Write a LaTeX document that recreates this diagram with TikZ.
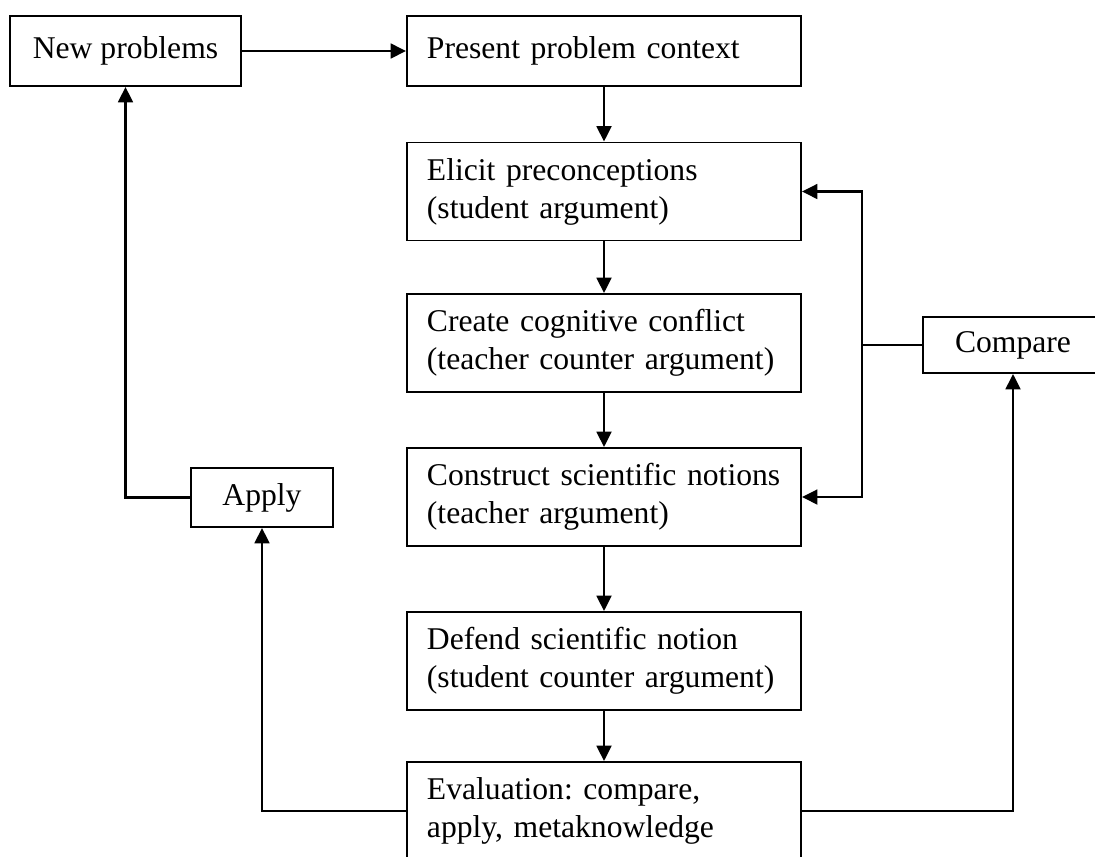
\documentclass[tikz,border=0pt]{standalone}
\usepackage{fontspec}
\setmainfont{Liberation Serif}
\usetikzlibrary{arrows.meta,positioning}

\tikzset{
  stagebox/.style={draw, line width=1.3pt, text width=8.85cm, inner xsep=0.5cm, inner ysep=0pt, align=left, minimum height=2.45cm},
  sidebox/.style={draw, line width=1.3pt, inner sep=0pt, align=center},
  flow/.style={line width=1.8pt, -{Triangle[length=11pt,width=10.5pt]}},
  link/.style={line width=1.8pt},
}

\begin{document}
\begin{tikzpicture}[x=0.025cm, y=-0.025cm, font=\fontsize{22.5pt}{27pt}\selectfont]
  \useasboundingbox (0,0) rectangle (1095,856);

  % Main column
  \node[stagebox, minimum height=1.75cm] (present) at (604,51) {Present problem context};
  \node[stagebox] (elicit) at (604,191.5) {Elicit preconceptions\\(student argument)};
  \node[stagebox] (create) at (604,343) {Create cognitive conflict\\(teacher counter argument)};
  \node[stagebox] (construct) at (604,497) {Construct scientific notions\\(teacher argument)};
  \node[stagebox] (defend) at (604,661) {Defend scientific notion\\(student counter argument)};
  \node[stagebox] (eval) at (604,811) {Evaluation:\  compare,\\apply, metaknowledge};

  % Side boxes
  \node[sidebox, minimum width=5.775cm, minimum height=1.75cm] (newprob) at (125.5,51) {New problems};
  \node[sidebox, minimum width=3.55cm, minimum height=1.475cm] (apply) at (262,497.5) {Apply};
  \node[sidebox, minimum width=4.5cm, minimum height=1.4cm] (compare) at (1013,345) {Compare};

  % Flow down the column
  \draw[flow] (newprob) -- (present);
  \foreach \a/\b in {present/elicit, elicit/create, create/construct, construct/defend, defend/eval}
    \draw[flow] (\a) -- (\b);

  % Compare loop
  \coordinate (split) at (862,345);
  \draw[link] (compare.west) -- (split);
  \draw[flow] (split) |- (elicit.east);
  \draw[flow] (split) |- (construct.east);

  % Evaluation branches
  \draw[flow] (eval.west) -| (apply.south);
  \draw[flow] (eval.east) -| (compare.south);
  \draw[flow] (apply.west) -| (newprob.south);
\end{tikzpicture}
\end{document}
